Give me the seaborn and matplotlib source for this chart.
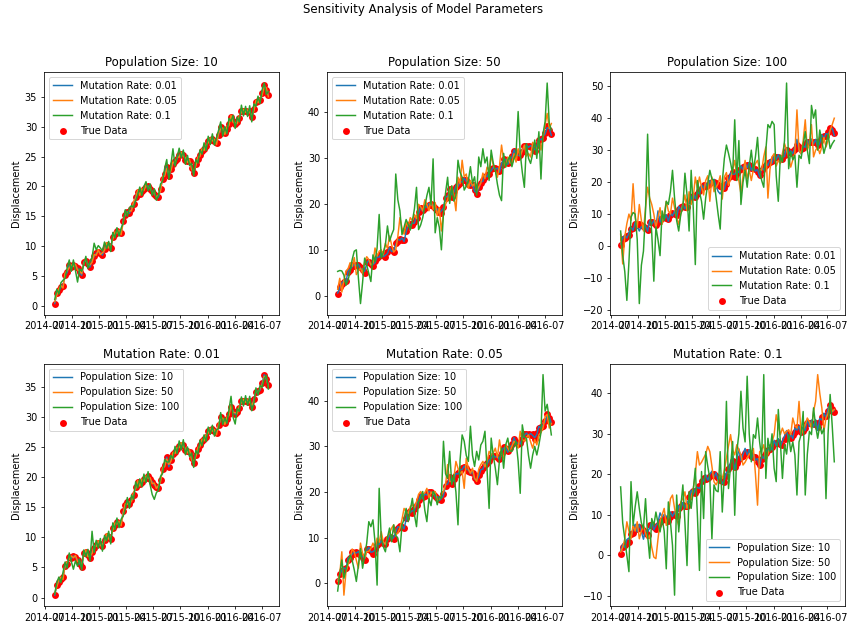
import numpy as np
import pandas as pd
import matplotlib
matplotlib.use("Agg")
import matplotlib.pyplot as plt
import matplotlib.dates as mdates
import seaborn as sns

# weekly observations
dates = pd.date_range("2014-08-03", periods=104, freq="W")

true_disp = [0.4, 2.1, 2.6, 3.1, 3.4, 5.2, 5.6, 6.8, 6.5, 6.9,
             6.7, 6.3, 5.6, 5.1, 7.4, 7.5, 7.1, 6.5, 7.6, 8.3,
             8.8, 9.1, 8.9, 8.5, 9.6, 10.2, 10.0, 9.7, 11.6, 12.1,
             12.5, 12.3, 12.2, 14.3, 15.3, 15.8, 15.5, 16.2, 17.1, 18.3,
             19.1, 18.8, 19.2, 19.6, 19.9, 20.1, 19.6, 19.2, 18.7, 18.4,
             18.2, 19.5, 21.3, 22.0, 23.3, 21.7, 22.9, 23.8, 24.2, 24.6,
             25.2, 25.4, 25.3, 24.5, 24.3, 24.2, 23.1, 22.3, 23.7, 24.6,
             25.3, 26.0, 26.3, 26.7, 27.6, 27.8, 27.9, 27.6, 27.3, 28.6,
             29.9, 29.5, 29.0, 29.6, 30.5, 31.6, 31.0, 30.4, 30.8, 31.5,
             32.7, 32.6, 32.7, 32.5, 32.7, 31.6, 32.9, 34.1, 34.3, 34.4,
             35.6, 37.0, 36.2, 35.3]

# pop 10 / mut 0.01 sits on the true data
fit_p10_m001 = true_disp

# low-noise fits (pop 10 / mut 0.05 and pop 50 / mut 0.01)
fit_low = [0.7, 1.8, 2.9, 3.4, 3.0, 5.5, 5.9, 6.4, 6.9, 6.6,
           7.0, 6.0, 5.9, 5.4, 7.1, 7.9, 6.8, 6.9, 7.3, 8.6,
           8.5, 9.4, 8.6, 8.9, 9.3, 10.6, 9.7, 10.0, 11.2, 12.4,
           12.2, 12.7, 11.9, 14.0, 15.6, 15.5, 15.9, 15.9, 17.5, 18.0,
           19.4, 18.5, 19.6, 19.3, 20.2, 19.8, 19.9, 18.9, 19.0, 18.1,
           18.6, 19.2, 21.6, 21.7, 23.0, 22.1, 22.6, 24.1, 23.9, 24.9,
           24.9, 25.7, 25.0, 24.8, 24.0, 24.5, 22.8, 22.6, 23.4, 24.9,
           25.0, 26.3, 26.0, 27.0, 27.3, 28.1, 27.6, 27.9, 27.0, 28.9,
           29.6, 29.8, 28.7, 29.9, 30.2, 31.9, 30.7, 30.7, 30.5, 31.8,
           32.4, 32.9, 32.4, 32.8, 32.4, 31.9, 32.6, 34.4, 34.0, 34.7,
           35.3, 36.7, 36.5, 35.0]

fit_p10_m01 = [1.1, 2.8, 2.0, 3.9, 4.3, 4.6, 6.4, 7.7, 5.8, 7.7,
               5.9, 4.0, 6.2, 5.8, 6.8, 8.3, 6.3, 7.4, 8.1, 10.5,
               9.4, 10.1, 9.7, 9.2, 10.7, 9.6, 10.8, 9.1, 12.3, 11.4,
               13.1, 11.7, 13.0, 13.8, 16.1, 15.0, 16.4, 16.8, 16.5, 17.6,
               18.6, 19.9, 18.5, 20.0, 20.8, 19.3, 20.4, 18.5, 19.6, 17.7,
               18.5, 20.4, 20.9, 23.0, 24.5, 21.2, 23.6, 26.3, 23.4, 24.9,
               26.4, 24.8, 26.1, 23.7, 25.2, 23.5, 23.9, 21.8, 24.5, 23.9,
               26.1, 25.4, 27.3, 26.0, 28.4, 27.0, 28.8, 26.9, 28.2, 29.4,
               30.8, 28.4, 30.0, 28.8, 31.4, 30.9, 31.9, 29.7, 31.6, 30.8,
               33.6, 31.8, 33.4, 31.7, 33.5, 30.8, 33.8, 33.4, 35.1, 33.9,
               36.2, 37.3, 35.4, 35.9]

fit_p100_m001 = [0.6, 2.5, 3.4, 2.5, 4.2, 5.9, 4.9, 7.4, 6.0, 4.7,
                 6.1, 5.2, 6.4, 4.6, 7.9, 6.8, 8.0, 6.1, 11.0, 7.5,
                 9.5, 8.2, 9.8, 7.7, 10.3, 9.4, 11.0, 8.9, 12.4, 11.3,
                 13.2, 11.6, 13.0, 13.5, 14.7, 16.6, 14.8, 17.0, 16.3, 19.2,
                 18.2, 19.7, 18.4, 20.5, 19.1, 20.9, 18.7, 17.1, 16.3, 17.4,
                 17.8, 20.1, 20.6, 22.9, 22.5, 22.5, 23.6, 23.0, 25.1, 23.9,
                 26.0, 24.5, 26.2, 23.7, 25.0, 23.4, 24.0, 21.6, 24.4, 23.8,
                 26.1, 25.2, 27.0, 25.9, 28.3, 27.1, 28.6, 26.8, 27.9, 28.0,
                 30.7, 28.7, 29.8, 28.9, 31.2, 33.4, 29.9, 28.8, 31.4, 30.9,
                 33.3, 31.8, 33.5, 31.9, 33.4, 31.0, 32.2, 34.8, 33.6, 35.2,
                 34.9, 36.3, 36.9, 34.6]

# top row, population 50
p50_m005_top = [1.5, 3.9, 0.9, 3.5, 5.4, 6.0, 7.3, 6.5, 8.4, 4.7,
                5.5, 6.1, 5.0, 7.5, 8.6, 8.0, 6.8, 7.2, 10.5, 8.7,
                9.8, 10.1, 9.0, 11.5, 10.4, 13.1, 11.2, 9.6, 10.1, 13.0,
                17.1, 14.9, 13.5, 16.0, 15.2, 17.1, 16.5, 17.8, 16.9, 20.0,
                19.5, 18.6, 21.0, 20.0, 18.6, 21.0, 18.9, 20.4, 17.5, 19.3,
                14.2, 18.0, 20.0, 21.0, 22.9, 24.0, 22.0, 18.6, 25.9, 24.5,
                29.6, 26.0, 26.6, 23.5, 25.2, 24.0, 24.5, 22.9, 23.8, 24.6,
                26.8, 25.6, 28.1, 27.4, 30.7, 28.5, 27.4, 25.9, 28.3, 32.9,
                29.6, 28.2, 30.3, 29.0, 28.9, 31.0, 29.2, 32.1, 30.5, 31.7,
                32.9, 30.5, 31.1, 30.3, 33.5, 32.9, 31.6, 34.0, 31.8, 34.6,
                37.3, 39.8, 36.5, 37.6]

p50_m01_top = [5.4, 5.6, 5.5, 4.6, 2.4, 3.5, 5.4, 8.0, 9.8, 10.1,
               3.9, -1.6, 3.0, 8.3, 6.8, 5.0, 3.2, 9.0, 7.5, 10.5,
               17.8, 8.3, 9.5, 11.2, 15.3, 12.0, 13.4, 14.5, 26.6, 21.0,
               18.6, 13.4, 15.0, 16.7, 15.6, 14.4, 16.3, 19.0, 23.7, 14.5,
               15.5, 17.1, 19.5, 21.9, 23.7, 20.0, 29.9, 13.8, 17.1, 15.0,
               10.1, 18.0, 22.5, 25.9, 20.2, 24.0, 20.7, 22.0, 29.6, 27.0,
               25.9, 23.1, 24.0, 25.2, 28.2, 24.6, 26.0, 22.0, 30.3, 28.2,
               32.1, 29.0, 30.3, 25.2, 31.8, 29.0, 27.4, 24.4, 22.0, 20.8,
               31.1, 28.1, 29.6, 30.5, 28.2, 30.0, 31.1, 40.2, 31.1, 27.0,
               23.7, 33.2, 30.0, 28.9, 31.0, 34.0, 30.0, 35.8, 25.5, 35.4,
               38.0, 46.4, 37.6, 36.2]

# top row, population 100
p100_m005_top = [3.7, -5.6, 3.0, 7.0, 10.0, 8.0, 19.5, 9.0, 5.8, 13.0,
                 8.0, 4.7, 12.0, 18.4, 15.0, 13.0, 10.0, 5.8, 9.0, 12.0,
                 6.8, 10.0, 14.0, 11.0, 10.0, 15.0, 12.0, 8.9, 6.8, 10.0,
                 13.0, 16.0, 11.0, 17.0, 13.0, 15.0, 21.6, 18.0, 21.6, 18.4,
                 16.0, 20.5, 22.0, 14.0, 21.6, 17.0, 18.4, 19.5, 22.0, 14.7,
                 21.6, 23.0, 19.0, 21.0, 23.7, 26.8, 22.0, 20.5, 16.3, 22.0,
                 26.8, 21.0, 23.7, 20.5, 24.0, 25.8, 26.8, 24.0, 23.7, 28.0,
                 31.0, 15.0, 24.0, 27.9, 28.9, 25.0, 26.8, 25.8, 29.0, 32.1,
                 30.0, 27.9, 24.7, 27.0, 28.9, 42.6, 30.0, 28.9, 33.0, 39.5,
                 30.0, 32.0, 38.0, 27.9, 30.0, 31.0, 28.9, 31.0, 34.0, 31.0,
                 33.0, 36.3, 38.0, 40.0]

p100_m01_top = [4.7, -3.0, -8.0, -17.0, -5.0, 9.0, 10.5, 10.0, 2.0, -18.0,
                -6.0, -1.6, 11.0, 35.0, 13.0, 4.0, -11.0, 6.0, 2.0, -3.0,
                11.0, 8.0, 14.0, 13.0, 17.0, 23.7, 15.0, 8.0, 4.7, 10.0,
                12.0, 22.8, 16.0, 4.7, 23.7, 12.0, -5.8, 20.5, 17.0, 14.0,
                8.4, 15.0, 19.5, 23.7, 21.0, 20.5, 15.3, 10.0, 5.3, 20.0,
                27.4, 31.6, 29.0, 26.0, 22.6, 39.5, 20.5, 33.0, 13.0, 20.0,
                23.7, 18.4, 25.0, 30.0, 23.7, 28.0, 34.0, 24.0, 20.5, 18.4,
                30.0, 38.0, 37.0, 39.0, 38.0, 22.0, 14.0, 28.4, 26.3, 33.0,
                51.0, 24.2, 29.5, 27.0, 28.4, 18.4, 28.4, 27.4, 31.6, 35.8,
                30.0, 25.8, 44.0, 40.0, 42.6, 30.0, 36.3, 33.0, 29.0, 31.6,
                35.0, 30.5, 32.0, 33.0]

# bottom row, mutation 0.05
p50_m005_bot = [0.4, 2.0, 6.9, -2.6, 2.5, 4.0, 5.5, 7.5, 6.9, 5.0,
                3.3, 8.8, 6.5, 5.5, 6.9, 7.0, 7.6, 8.8, 7.5, 9.9,
                9.0, 11.3, 9.1, 8.5, 10.2, 11.0, 12.1, 12.8, 10.6, 11.0,
                12.1, 14.0, 16.4, 15.7, 15.3, 16.8, 17.2, 16.5, 17.9, 19.5,
                20.1, 19.4, 19.8, 20.8, 18.6, 20.0, 19.5, 20.1, 17.9, 18.5,
                19.4, 20.1, 21.5, 26.0, 22.3, 22.3, 23.0, 26.7, 25.2, 24.0,
                24.5, 20.8, 27.4, 25.0, 24.1, 25.2, 23.0, 22.3, 25.0, 26.0,
                26.7, 25.5, 26.7, 28.9, 28.1, 28.5, 29.6, 27.5, 31.4, 28.5,
                27.4, 30.3, 29.6, 28.9, 30.0, 31.1, 30.5, 29.6, 33.3, 31.5,
                31.1, 32.0, 32.5, 31.0, 29.6, 31.5, 30.3, 32.5, 33.0, 34.0,
                36.5, 37.0, 34.0, 35.0]

p100_m005_bot = [-1.7, 2.0, 5.1, 1.1, 3.0, 4.8, 6.2, 5.0, 2.9, 0.4,
                 4.0, 7.6, 3.3, 6.0, 8.8, 13.5, 12.4, 13.9, 9.0, -0.4,
                 20.8, 9.9, 8.0, 6.9, 10.0, 12.1, 9.1, 12.8, 10.5, 9.9,
                 6.9, 12.8, 14.0, 16.4, 13.5, 16.0, 18.6, 15.0, 12.4, 17.9,
                 18.5, 20.1, 16.0, 13.5, 18.6, 17.0, 20.1, 19.4, 17.2, 19.0,
                 18.6, 31.1, 24.0, 23.0, 28.9, 21.6, 23.8, 20.0, 12.8, 27.0,
                 32.5, 31.1, 28.0, 26.7, 34.4, 28.0, 25.6, 28.9, 27.0, 30.3,
                 31.1, 33.3, 25.0, 16.4, 31.8, 28.0, 25.2, 21.6, 27.0, 29.6,
                 25.2, 30.3, 31.8, 29.0, 28.9, 30.0, 31.1, 26.7, 19.7, 34.7,
                 32.0, 31.8, 28.0, 25.2, 28.1, 30.0, 28.1, 30.3, 33.0, 45.7,
                 37.7, 39.2, 36.0, 32.5]

# bottom row, mutation 0.1
p50_m01_bot = [0.8, 2.0, 4.1, 8.3, 6.0, 4.1, 7.4, 6.0, 8.3, 4.1,
               6.0, 7.4, 5.5, 4.1, 5.0, 2.0, -0.4, -0.8, 4.0, 8.3,
               10.0, 11.6, 7.4, 10.0, 14.0, 14.9, 11.6, 9.0, 7.4, 13.2,
               14.0, 15.7, 11.6, 13.0, 14.0, 16.5, 20.0, 25.6, 22.3, 23.0,
               24.0, 25.0, 26.9, 25.6, 22.0, 18.2, 17.4, 18.5, 19.8, 19.0,
               21.0, 24.0, 27.0, 29.8, 26.0, 24.8, 27.3, 26.0, 24.8, 22.3,
               23.0, 24.0, 25.0, 25.6, 26.4, 20.0, 12.4, 25.6, 26.0, 27.3,
               23.1, 25.0, 26.4, 28.0, 29.8, 34.7, 32.0, 29.8, 31.4, 30.0,
               30.6, 31.0, 29.8, 33.9, 32.0, 31.4, 38.0, 29.8, 31.0, 32.2,
               33.9, 33.0, 31.4, 35.5, 38.0, 44.6, 40.0, 36.4, 30.6, 33.9,
               35.0, 37.2, 35.5, 36.0]

p100_m01_bot = [16.9, 8.0, 4.1, 0.0, -4.0, 18.2, 7.4, 12.0, 15.7, 11.6,
                8.0, 6.6, 14.0, 5.0, -0.7, 9.1, 7.4, 10.7, 8.0, 5.8,
                9.1, 6.0, -3.3, 13.2, 8.3, 2.5, -9.8, 14.9, 5.8, 12.0,
                17.4, 8.0, -2.5, 15.7, 11.6, 16.0, 21.5, 10.0, -3.7, 20.7,
                9.1, 25.6, 22.0, 19.0, 4.1, 17.4, 16.0, 15.7, 25.6, 10.7,
                20.0, 38.0, 16.5, 22.0, 28.1, 9.9, 25.6, 30.0, 40.5, 31.4,
                28.0, 44.2, 30.0, 23.1, 29.8, 28.9, 33.9, 28.0, 24.0, 44.6,
                19.0, 28.9, 25.6, 30.0, 21.5, 18.2, 36.0, 28.0, 19.0, 27.3,
                25.0, 29.8, 25.6, 28.0, 24.8, 14.9, 28.0, 29.8, 35.5, 14.9,
                25.0, 30.6, 29.8, 36.4, 32.0, 28.9, 32.2, 30.0, 31.4, 14.0,
                30.0, 39.7, 32.0, 23.1]

pop_sizes = [10, 50, 100]
mut_rates = [0.01, 0.05, 0.1]

top_row = [
    [fit_p10_m001, fit_low, fit_p10_m01],
    [fit_low, p50_m005_top, p50_m01_top],
    [fit_p100_m001, p100_m005_top, p100_m01_top],
]
bottom_row = [
    [fit_p10_m001, fit_low, fit_p100_m001],
    [fit_low, p50_m005_bot, p100_m005_bot],
    [fit_p10_m01, p50_m01_bot, p100_m01_bot],
]

DPI = 847 / 12
fig, axes = plt.subplots(2, 3, figsize=(12, 623 / DPI), dpi=DPI)
fig.subplots_adjust(left=0.052, right=0.9976, top=0.8844, bottom=0.027,
                    wspace=0.204, hspace=0.202)
fig.suptitle("Sensitivity Analysis of Model Parameters", y=0.995)

colors = sns.color_palette("tab10", 3)

for i, pop in enumerate(pop_sizes):
    ax = axes[0, i]
    for j, mut in enumerate(mut_rates):
        sns.lineplot(x=dates, y=top_row[i][j], color=colors[j],
                     label=f"Mutation Rate: {mut}", ax=ax)
    sns.scatterplot(x=dates, y=true_disp, color="red", s=50, linewidth=0,
                    label="True Data", ax=ax)
    ax.set_title(f"Population Size: {pop}")
    ax.legend(loc="lower right" if pop == 100 else "upper left")

for i, mut in enumerate(mut_rates):
    ax = axes[1, i]
    for j, pop in enumerate(pop_sizes):
        sns.lineplot(x=dates, y=bottom_row[i][j], color=colors[j],
                     label=f"Population Size: {pop}", ax=ax)
    sns.scatterplot(x=dates, y=true_disp, color="red", s=50, linewidth=0,
                    label="True Data", ax=ax)
    ax.set_title(f"Mutation Rate: {mut}")
    ax.legend(loc="lower right" if mut == 0.1 else "upper left")

for ax in axes.flat:
    ax.set_xlabel("")
    ax.set_ylabel("Displacement")
    ax.xaxis.set_major_locator(mdates.MonthLocator(bymonth=[1, 4, 7, 10]))
    ax.xaxis.set_major_formatter(mdates.DateFormatter("%Y-%m"))

fig.savefig("out.png", dpi=DPI)
